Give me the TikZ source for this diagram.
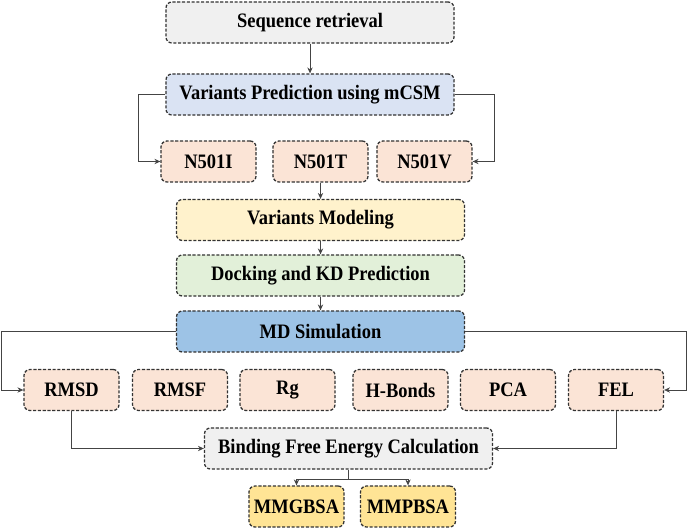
\documentclass[tikz,border=0pt]{standalone}
\usepackage{fontspec}
\setmainfont[FakeStretch=0.9]{Liberation Serif}
\usepackage{tikz}
\usetikzlibrary{arrows.meta}
\definecolor{boxgray}{HTML}{F0F0F0}
\definecolor{boxblue}{HTML}{DAE3F3}
\definecolor{boxpeach}{HTML}{FBE4D6}
\definecolor{boxyellow}{HTML}{FFF2CC}
\definecolor{boxgreen}{HTML}{E2F0D9}
\definecolor{boxmd}{HTML}{9DC3E6}
\definecolor{boxgold}{HTML}{FFE495}
\definecolor{edgegray}{HTML}{333333}
\definecolor{linegray}{HTML}{444444}

\begin{document}
\begin{tikzpicture}[x=0.025cm, y=-0.025cm,
		stepbox/.style={draw=edgegray, line width=0.9pt, dash pattern=on 2.2pt off 1.2pt, rounded corners=0.15cm,
			minimum height=1.025cm, inner sep=0pt, font=\fontsize{14.6}{17}\selectfont\bfseries},
		widebox/.style={stepbox, minimum width=7.2cm},
		smallbox/.style={stepbox, minimum width=2.375cm},
		arr/.style={draw=linegray, line width=0.6pt, -{Stealth[length=4.2pt, width=3.8pt]}}]
	\useasboundingbox (0,0) rectangle (688,530);
	\node[widebox, fill=boxgray] (seq) at (310,22.5) {Sequence retrieval};
	\node[widebox, fill=boxblue] (pred) at (310,94.5) {Variants Prediction using mCSM};
	\node[smallbox, fill=boxpeach] (nI) at (208.5,161.5) {N501I};
	\node[smallbox, fill=boxpeach] (nT) at (320.5,161.5) {N501T};
	\node[smallbox, fill=boxpeach] (nV) at (424.5,161.5) {N501V};
	\node[widebox, fill=boxyellow] (model) at (320.5,220) {Variants Modeling};
	\node[widebox, fill=boxgreen] (dock) at (320.5,275.5) {Docking and KD Prediction};
	\node[widebox, fill=boxmd] (md) at (320.5,331.5) {MD Simulation};
	\node[smallbox, fill=boxpeach] (rmsd) at (71.5,390) {RMSD};
	\node[smallbox, fill=boxpeach] (rmsf) at (180,390) {RMSF};
	\node[smallbox, fill=boxpeach] (rg) at (287.5,390) {Rg};
	\node[smallbox, fill=boxpeach] (hb) at (400.5,390) {H-Bonds};
	\node[smallbox, fill=boxpeach] (pca) at (508,390) {PCA};
	\node[smallbox, fill=boxpeach] (fel) at (616,390) {FEL};
	\node[widebox, fill=boxgray] (bind) at (348.5,448.5) {Binding Free Energy Calculation};
	\node[smallbox, fill=boxgold] (gb) at (296.5,506.5) {MMGBSA};
	\node[smallbox, fill=boxgold] (pb) at (408,506.5) {MMPBSA};

	\draw[arr] (seq) -- (pred);
	\draw[arr] (pred.west) -- ++(-27,0) |- (nI.west);
	\draw[arr] (pred.east) -- ++(40,0) |- (nV.east);
	\draw[arr] (nT) -- (model);
	\draw[arr] (model) -- (dock);
	\draw[arr] (dock) -- (md);
	\draw[arr] (md.west) -- ++(-174,0) |- (rmsd.west);
	\draw[arr] (md.east) -- ++(221,0) |- (fel.east);
	\draw[arr] (rmsd.south) |- (bind.west);
	\draw[arr] (fel.south) |- (bind.east);
	\draw[draw=linegray, line width=0.6pt] (bind.south) -- ++(0,9.5) coordinate (fork);
	\draw[arr] (fork) -| (gb.north);
	\draw[arr] (fork) -| (pb.north);
\end{tikzpicture}
\end{document}
